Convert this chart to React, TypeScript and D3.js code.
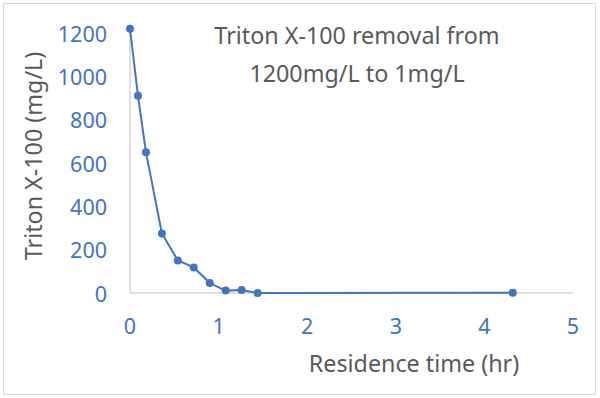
import * as d3 from 'd3';
import React from 'react';

// residence time (hr) vs Triton X-100 concentration (mg/L)
const times = [0, 0.09, 0.18, 0.36, 0.54, 0.72, 0.9, 1.08, 1.26, 1.44, 4.32];
const conc = [1220, 910, 650, 275, 150, 118, 46, 11, 14, 0, 1];
const xTicks = [0, 1, 2, 3, 4, 5];
const yTicks = [0, 200, 400, 600, 800, 1000, 1200];
const titleLines = ['Triton X-100 removal from', '1200mg/L to 1mg/L'];

const W = 600, H = 398;
const font = '"Noto Sans", "Open Sans", sans-serif';
const blue = '#4472C4';
const gray = '#595959';

const App = () => {
    const x = d3.scaleLinear().domain([0, 5]).range([130, 573]);
    const y = d3.scaleLinear().domain([0, 1200]).range([293, 33]);

    const line = d3.line<number>()
        .x((d, i) => x(times[i]))
        .y(d => y(d));

    return <svg width={W} height={H} style={{ position: 'absolute', left: 0, top: 0 }}>
        <rect x={0} y={0} width={W} height={H} fill="#fff" />
        <rect x={3.5} y={3.5} width={592} height={391} fill="none" stroke="#d9d9d9" strokeWidth={1} />

        {/* axes */}
        <line x1={x(0)} x2={x(0)} y1={y(1200)} y2={y(0)} stroke="#bfbfbf" />
        <line x1={x(0)} x2={x(5)} y1={y(0)} y2={y(0)} stroke="#bfbfbf" />

        {yTicks.map(t =>
            <text key={'y' + t} x={107} y={y(t)} textAnchor="end" dominantBaseline="central"
                fontFamily={font} fontSize={21.5} fill={blue}>{t}</text>
        )}
        {xTicks.map(t =>
            <text key={'x' + t} x={x(t)} y={325} textAnchor="middle" dominantBaseline="central"
                fontFamily={font} fontSize={21.5} fill={blue}>{t}</text>
        )}

        <path d={line(conc) || ''} fill="none" stroke={blue} strokeWidth={2} />
        {conc.map((c, i) =>
            <circle key={i} cx={x(times[i])} cy={y(c)} r={4} fill={blue} />
        )}

        {titleLines.map((s, i) =>
            <text key={s} x={357} y={44 + i * 38} textAnchor="middle"
                fontFamily={font} fontSize={23.3} fill={gray}>{s}</text>
        )}

        <text x={414} y={372} textAnchor="middle" fontFamily={font} fontSize={23.3} fill={gray}>
            Residence time (hr)
        </text>
        <text transform="translate(42,156) rotate(-90)" textAnchor="middle"
            fontFamily={font} fontSize={23.3} fill={gray}>
            Triton X-100 (mg/L)
        </text>
    </svg>;
}
export default App;
